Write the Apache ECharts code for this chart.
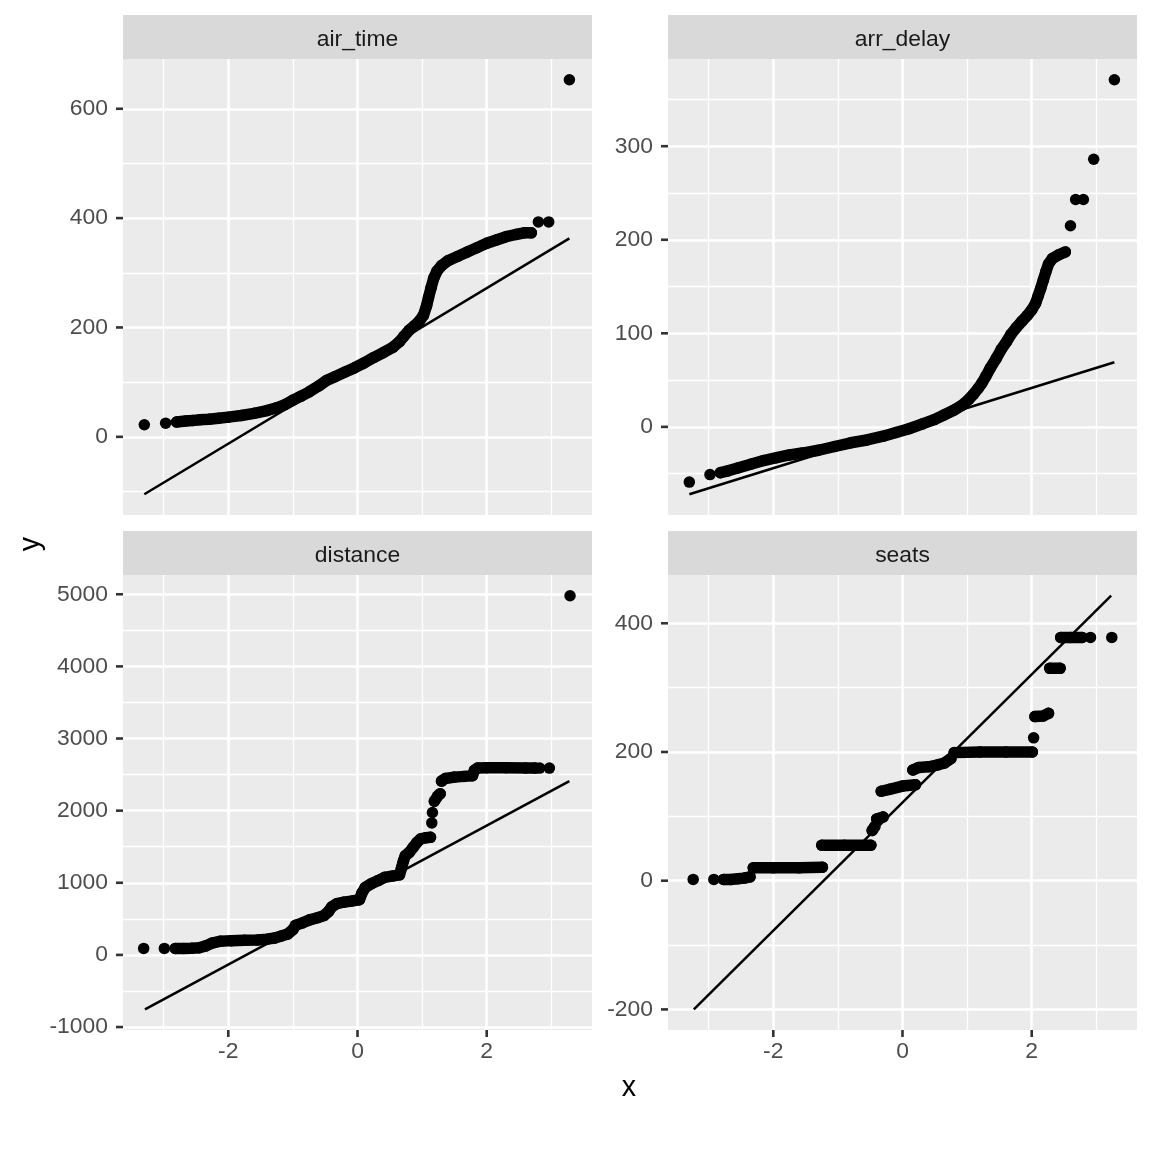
<!DOCTYPE html>
<html>
<head>
<meta charset="utf-8">
<script src="https://cdn.jsdelivr.net/npm/echarts@6/dist/echarts.min.js"></script>
<style>html,body{margin:0;padding:0;background:#fff}#c{width:1152px;height:1152px}</style>
</head>
<body>
<div id="c"></div>
<script>
// ---------- data (x = theoretical quantile, y = sample) ----------
const panelNames = ['air_time', 'arr_delay', 'distance', 'seats'];

const xTicks = [-2, 0, 2];
const xMinor = [-3, -1, 1, 3];

// air_time
const airTimeCurve = [[-2.80,27],[-2.66,29],[-2.55,30],[-2.45,31],[-2.30,32],[-2.15,34],[-2.0,36],[-1.8,39],[-1.6,43],[-1.4,48],[-1.25,53],[-1.12,59],[-1.0,67],[-0.88,74],[-0.75,82],[-0.6,93],[-0.48,103],[-0.35,110],[-0.2,118],[-0.05,126],[0.1,135],[0.25,145],[0.4,154],[0.55,164],[0.65,174],[0.72,184],[0.8,195],[0.88,203],[0.96,212],[1.02,222],[1.07,240],[1.1,255],[1.14,273],[1.18,290],[1.23,303],[1.3,313],[1.4,322],[1.55,330],[1.7,338],[1.85,346],[2.0,354],[2.15,360],[2.3,366],[2.45,370],[2.58,373],[2.69,373]];
const airTimeSingles = [[-3.30,22],[-2.97,25],[2.80,393],[2.96,393],[3.28,653]];
const airTimeLine = [[-3.30,-105],[3.28,363]];
const airTimeTicks = [0, 200, 400, 600];
const airTimeMinor = [-100, 100, 300, 500];

// arr_delay
const arrDelayCurve = [[-2.82,-49],[-2.70,-47],[-2.55,-44],[-2.35,-40],[-2.15,-36],[-1.95,-33],[-1.75,-30],[-1.55,-28],[-1.3,-25],[-1.05,-21],[-0.8,-17],[-0.55,-14],[-0.3,-10],[-0.1,-6],[0.1,-2],[0.3,3],[0.5,8],[0.65,13],[0.8,18],[0.92,23],[1.02,29],[1.1,35],[1.17,41],[1.23,47],[1.29,54],[1.36,63],[1.45,73],[1.53,83],[1.61,91],[1.68,99],[1.76,106],[1.85,113],[1.93,119],[2.0,125],[2.06,132],[2.1,140],[2.14,148],[2.18,157],[2.22,166],[2.26,174],[2.32,180],[2.42,184],[2.52,187]];
const arrDelaySingles = [[-3.30,-59],[-2.98,-51],[2.60,215],[2.68,243],[2.80,243],[2.96,286],[3.28,371]];
const arrDelayLine = [[-3.30,-72],[3.28,69]];
const arrDelayTicks = [0, 100, 200, 300];
const arrDelayMinor = [-50, 50, 150, 250, 350];

// distance
const distanceCurveA = [[-2.82,90],[-2.69,90],[-2.57,92],[-2.45,100],[-2.35,125],[-2.25,165],[-2.12,190],[-1.95,198],[-1.75,202],[-1.55,208],[-1.40,218],[-1.28,235],[-1.18,262],[-1.08,290],[-1.0,350],[-0.96,410],[-0.85,445],[-0.74,486],[-0.62,515],[-0.52,545],[-0.45,600],[-0.40,665],[-0.32,710],[-0.22,730],[-0.1,745],[0.03,765],[0.07,860],[0.12,935],[0.22,990],[0.32,1030],[0.42,1075],[0.55,1095],[0.65,1110],[0.68,1200],[0.71,1300],[0.74,1375],[0.8,1420],[0.86,1490],[0.92,1560],[0.98,1610],[1.06,1625],[1.13,1630]];
const distanceCurveB = [[1.19,2130],[1.24,2200],[1.28,2235]];
const distanceCurveC = [[1.30,2410],[1.36,2445],[1.5,2465],[1.65,2475],[1.78,2485],[1.81,2560],[1.86,2590],[2.0,2595],[2.3,2595],[2.6,2592],[2.75,2590]];
const distanceSingles = [[-3.31,90],[-2.99,90],[1.15,1830],[1.16,1975],[2.82,2590],[2.97,2590],[3.29,4980]];
const distanceLine = [[-3.29,-754],[3.28,2410]];
const distanceTicks = [-1000, 0, 1000, 2000, 3000, 4000, 5000];
const distanceMinor = [-500, 500, 1500, 2500, 3500, 4500];

// seats
const seatsStep1 = [[-2.77,2],[-2.66,2],[-2.55,3],[-2.45,4],[-2.36,6]];
const seatsStep2 = [[-2.31,20],[-2.0,20],[-1.6,20],[-1.24,21]];
const seatsStep3 = [[-1.25,55],[-0.9,55],[-0.49,55]];
const seatsStep4 = [[-0.47,78],[-0.43,84]];
const seatsStep5 = [[-0.40,96],[-0.30,99]];
const seatsStep6 = [[-0.33,139],[-0.2,142],[0,147],[0.2,149]];
const seatsStep7 = [[0.16,172],[0.25,176],[0.4,177],[0.55,180],[0.65,183],[0.75,190]];
const seatsStep8 = [[0.8,199],[1.2,200],[1.6,200],[2.01,200]];
const seatsStep9 = [[2.05,255],[2.18,256],[2.26,260]];
const seatsStep10 = [[2.28,330],[2.44,330]];
const seatsStep11 = [[2.45,378],[2.6,378],[2.78,378]];
const seatsSingles = [[-3.24,2],[-2.92,2],[2.03,222],[2.91,378],[3.24,378]];
const seatsLine = [[-3.23,-200],[3.23,443]];
const seatsTicks = [-200, 0, 200, 400];
const seatsMinor = [-100, 100, 300];

// ---------- layout / style ----------
const FONT = '"Liberation Sans", Arial, Helvetica, sans-serif';
const X_MIN = -3.63, X_MAX = 3.63;
const PW = 469;
const TICK_LEN = 7;
const LABEL_SIZE = 22.9;
const TITLE_SIZE = 28.6;

const panels = [
  {name: panelNames[0], segs: [airTimeCurve], singles: airTimeSingles, line: airTimeLine,
   yMin: -143, yMax: 691, ticks: airTimeTicks, minor: airTimeMinor, left: 123, top: 59, height: 456, showX: false},
  {name: panelNames[1], segs: [arrDelayCurve], singles: arrDelaySingles, line: arrDelayLine,
   yMin: -94.2, yMax: 393.2, ticks: arrDelayTicks, minor: arrDelayMinor, left: 668, top: 59, height: 456, showX: false},
  {name: panelNames[2], segs: [distanceCurveA, distanceCurveB, distanceCurveC], singles: distanceSingles, line: distanceLine,
   yMin: -1041, yMax: 5267, ticks: distanceTicks, minor: distanceMinor, left: 123, top: 575, height: 455, showX: true},
  {name: panelNames[3], segs: [seatsStep1, seatsStep2, seatsStep3, seatsStep4, seatsStep5, seatsStep6, seatsStep7, seatsStep8, seatsStep9, seatsStep10, seatsStep11],
   singles: seatsSingles, line: seatsLine,
   yMin: -232, yMax: 475, ticks: seatsTicks, minor: seatsMinor, left: 668, top: 575, height: 455, showX: true}
];

const grid = [], xAxis = [], yAxis = [], series = [], graphic = [];
const labelStyle = {color: '#4D4D4D', fontSize: LABEL_SIZE, fontFamily: FONT, formatter: v => String(v)};

panels.forEach((p, i) => {
  grid.push({left: p.left, top: p.top, width: PW, height: p.height, show: true,
             backgroundColor: '#EBEBEB', borderWidth: 0, containLabel: false, outerBoundsMode: 'none'});
  xAxis.push({type: 'value', gridIndex: i, min: X_MIN, max: X_MAX, show: p.showX,
              axisLine: {show: false}, splitLine: {show: false}, axisTick: {show: false},
              axisLabel: Object.assign({show: p.showX, customValues: xTicks, margin: 10}, labelStyle)});
  yAxis.push({type: 'value', gridIndex: i, min: p.yMin, max: p.yMax,
              axisLine: {show: false}, splitLine: {show: false}, axisTick: {show: false},
              axisLabel: Object.assign({show: true, customValues: p.ticks, margin: 15, padding: [3, 0, 0, 0]}, labelStyle)});

  const ml = [];
  p.minor.forEach(v => ml.push({yAxis: v, lineStyle: {color: '#FFFFFF', width: 1.3, type: 'solid'}}));
  xMinor.forEach(v => ml.push({xAxis: v, lineStyle: {color: '#FFFFFF', width: 1.3, type: 'solid'}}));
  p.ticks.forEach(v => ml.push({yAxis: v, lineStyle: {color: '#FFFFFF', width: 2.6, type: 'solid'}}));
  xTicks.forEach(v => ml.push({xAxis: v, lineStyle: {color: '#FFFFFF', width: 2.6, type: 'solid'}}));
  series.push({type: 'line', xAxisIndex: i, yAxisIndex: i, data: [[X_MIN, p.yMin]], symbol: 'none',
               lineStyle: {opacity: 0}, silent: true, z: 1,
               markLine: {z: 1, silent: true, symbol: ['none', 'none'], label: {show: false},
                          emphasis: {disabled: true}, animation: false, data: ml}});

  const allPts = [];
  p.segs.forEach(seg => {
    series.push({type: 'line', xAxisIndex: i, yAxisIndex: i, data: seg, symbol: 'none', silent: true, z: 2,
                 lineStyle: {color: '#000000', width: 11.5, cap: 'round', join: 'round', opacity: 1}});
    seg.forEach(pt => allPts.push(pt));
  });
  p.singles.forEach(pt => allPts.push(pt));
  series.push({type: 'scatter', xAxisIndex: i, yAxisIndex: i, data: allPts, symbol: 'circle', symbolSize: 11.5,
               itemStyle: {color: '#000000', opacity: 1}, silent: true, z: 3});
  series.push({type: 'line', xAxisIndex: i, yAxisIndex: i, data: p.line, symbol: 'none', silent: true, z: 4,
               lineStyle: {color: '#000000', width: 2.5}});

  const stripTop = p.top - 44;
  graphic.push({type: 'rect', shape: {x: p.left, y: stripTop, width: PW, height: 44}, style: {fill: '#D9D9D9'}, z: 0});
  graphic.push({type: 'text', x: p.left + PW / 2, y: stripTop + 24.5,
                style: {text: p.name, fill: '#1A1A1A', fontSize: LABEL_SIZE, fontFamily: FONT,
                        textAlign: 'center', textVerticalAlign: 'middle', align: 'center', verticalAlign: 'middle'}, z: 10});
});

graphic.push({type: 'text', x: 629, y: 1088,
              style: {text: 'x', fill: '#000000', fontSize: TITLE_SIZE, fontFamily: FONT,
                      textAlign: 'center', textVerticalAlign: 'middle', align: 'center', verticalAlign: 'middle'}, z: 10});
graphic.push({type: 'text', x: 31, y: 544, rotation: Math.PI / 2,
              style: {text: 'y', fill: '#000000', fontSize: TITLE_SIZE, fontFamily: FONT,
                      textAlign: 'center', textVerticalAlign: 'middle', align: 'center', verticalAlign: 'middle'}, z: 10});

const chart = echarts.init(document.getElementById('c'), null, {renderer: 'canvas', width: 1152, height: 1152});
chart.setOption({
  backgroundColor: '#FFFFFF',
  animation: false,
  grid: grid,
  xAxis: xAxis,
  yAxis: yAxis,
  series: series
});

// axis tick marks placed through the library's own coordinate conversion
panels.forEach((p, i) => {
  const finder = {xAxisIndex: i, yAxisIndex: i};
  p.ticks.forEach(v => {
    const pt = chart.convertToPixel(finder, [X_MIN, v]);
    graphic.push({type: 'line', shape: {x1: pt[0] - TICK_LEN, y1: pt[1], x2: pt[0], y2: pt[1]},
                  style: {stroke: '#333333', lineWidth: 2.6}, z: 10, silent: true});
  });
  if (p.showX) {
    xTicks.forEach(v => {
      const pt = chart.convertToPixel(finder, [v, p.yMin]);
      graphic.push({type: 'line', shape: {x1: pt[0], y1: pt[1], x2: pt[0], y2: pt[1] + TICK_LEN},
                    style: {stroke: '#333333', lineWidth: 2.6}, z: 10, silent: true});
    });
  }
});
chart.setOption({graphic: graphic});
</script>
</body>
</html>
